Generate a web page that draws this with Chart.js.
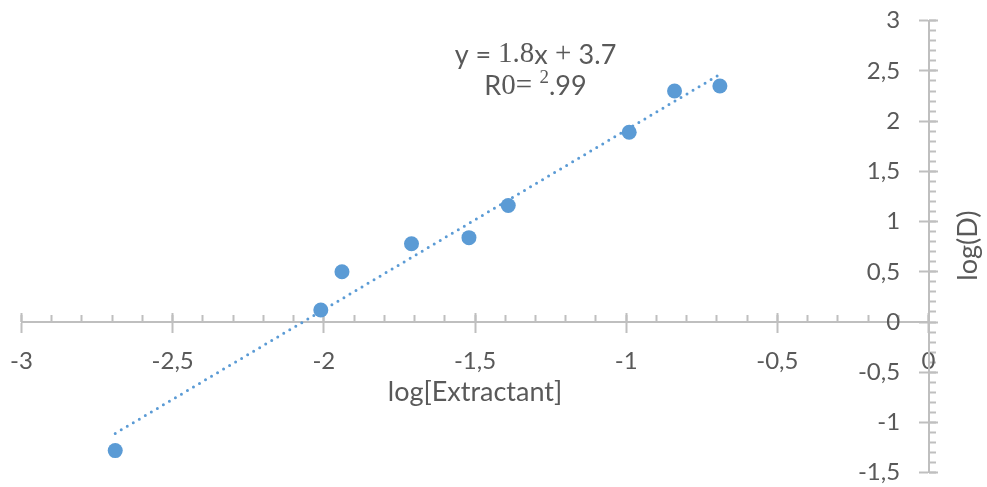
<!DOCTYPE html>
<html>
<head>
<meta charset="utf-8">
<script src="https://cdn.jsdelivr.net/npm/chart.js@4"></script>
<style>
  html, body { margin: 0; padding: 0; background: #fff; }
  #wrap { width: 987px; height: 487px; }
</style>
</head>
<body>
<div id="wrap"><canvas id="myChart" width="987" height="487"></canvas></div>
<script>
// measured points
const logExtractant = [-2.69, -2.01, -1.94, -1.71, -1.52, -1.39, -0.99, -0.84, -0.69];
const logD = [-1.28, 0.12, 0.50, 0.78, 0.84, 1.16, 1.89, 2.30, 2.35];

const xTicks = { min: -3, max: 0, major: 0.5, minor: 0.1 };
const yTicks = { min: -1.5, max: 3, major: 0.5, minor: 0.1 };

const eqLine1 = [['y = ', 'sans'], ['1.8', 'serif'], ['x', 'sans'], [' + ', 'serif'], ['3.7', 'sans']];
const eqLine2 = [['R', 'sans'], ['0= ', 'serif'], ['2', 'sup'], ['.99', 'sans']];

const xTitle = 'log[Extractant]';
const yTitle = 'log(D)';

// least squares trendline
const n = logExtractant.length;
const mx = logExtractant.reduce((a, b) => a + b, 0) / n;
const my = logD.reduce((a, b) => a + b, 0) / n;
let sxy = 0, sxx = 0;
logExtractant.forEach((x, i) => { sxy += (x - mx) * (logD[i] - my); sxx += (x - mx) * (x - mx); });
const slope = sxy / sxx;
const intercept = my - slope * mx;
const xFirst = Math.min(...logExtractant);
const xLast = Math.max(...logExtractant);
const trend = [xFirst, xLast].map(x => ({ x: x, y: slope * x + intercept }));

const points = logExtractant.map((x, i) => ({ x: x, y: logD[i] }));

const blue = '#5b9bd5';
const axisGrey = '#bfbfbf';
const textGrey = '#595959';
const sans = 'Lato, "Open Sans", sans-serif';
const serif = '"Liberation Serif", "DejaVu Serif", serif';
const fmt = v => String(Math.round(v * 10) / 10).replace('.', ',');
const noPad = s => { s.paddingLeft = 0; s.paddingRight = 0; s.paddingTop = 0; s.paddingBottom = 0; };

function tickScale(axis, lim, step, len, opts) {
  return {
    type: 'linear',
    axis: axis,
    min: lim.min,
    max: lim.max,
    position: opts.pos,
    afterFit: noPad,
    border: { display: !!opts.border, color: axisGrey, width: 2 },
    grid: { drawOnChartArea: false, drawTicks: len !== 0, tickLength: len, tickColor: axisGrey, tickWidth: 2 },
    ticks: {
      display: !!opts.labels,
      stepSize: step,
      autoSkip: false,
      maxTicksLimit: 200,
      maxRotation: 0,
      padding: opts.padding || 0,
      color: textGrey,
      font: { family: sans, size: 24 },
      callback: v => fmt(v)
    }
  };
}

const textPlugin = {
  id: 'texts',
  afterDraw(chart) {
    const ctx = chart.ctx;
    const xs = chart.scales.x, ys = chart.scales.y;
    const area = chart.chartArea;
    ctx.save();
    ctx.fillStyle = textGrey;
    ctx.textBaseline = 'middle';

    const fontOf = k => k === 'serif' ? '29px ' + serif : k === 'sup' ? '19px ' + serif : '27px ' + sans;
    const drawRuns = (runs, cx, cy) => {
      let w = 0;
      runs.forEach(r => { ctx.font = fontOf(r[1]); w += ctx.measureText(r[0]).width; });
      let x = cx - w / 2;
      ctx.textAlign = 'left';
      runs.forEach(r => {
        ctx.font = fontOf(r[1]);
        ctx.fillText(r[0], x, r[1] === 'sup' ? cy - 8 : cy);
        x += ctx.measureText(r[0]).width;
      });
    };
    drawRuns(eqLine1, xs.getPixelForValue(-1.3), ys.getPixelForValue(2.66));
    drawRuns(eqLine2, xs.getPixelForValue(-1.3), ys.getPixelForValue(2.35));

    ctx.font = '27px ' + sans;
    ctx.textAlign = 'center';
    ctx.fillText(xTitle, xs.getPixelForValue(-1.5), ys.getPixelForValue(-0.7));

    ctx.translate(area.right + 40, ys.getPixelForValue(0.76));
    ctx.rotate(-Math.PI / 2);
    ctx.fillText(yTitle, 0, 0);
    ctx.restore();
  }
};

const ctx = document.getElementById('myChart').getContext('2d');
const chart = new Chart(ctx, {
  type: 'scatter',
  data: {
    datasets: [
      {
        label: 'log(D)',
        data: points,
        backgroundColor: blue,
        borderColor: blue,
        pointRadius: 7.5,
        pointBorderWidth: 0,
        order: 1
      },
      {
        label: 'trend',
        type: 'line',
        data: trend,
        borderColor: blue,
        borderWidth: 3,
        borderDash: [0, 7],
        borderCapStyle: 'round',
        pointRadius: 0,
        fill: false,
        order: 2
      }
    ]
  },
  options: {
    responsive: false,
    animation: false,
    layout: { padding: { left: 21.5, right: 58.5, top: 20.7, bottom: 14.3 } },
    plugins: { legend: { display: false }, tooltip: { enabled: false } },
    scales: {
      x: tickScale('x', xTicks, xTicks.major, 10, { pos: { y: 0 }, labels: true, border: true, padding: 15 }),
      xUp: tickScale('x', xTicks, xTicks.major, -9, { pos: { y: 0 } }),
      xMinor: tickScale('x', xTicks, xTicks.minor, -7, { pos: { y: 0 } }),
      y: tickScale('y', yTicks, yTicks.major, 9, { pos: { x: 0 }, border: true }),
      yUp: tickScale('y', yTicks, yTicks.major, -9, { pos: { x: 0 } }),
      yMinor: tickScale('y', yTicks, yTicks.minor, -7, { pos: { x: 0 } }),
      yLabels: tickScale('y', yTicks, yTicks.major, 0, { pos: { x: -0.094 }, labels: true })
    }
  },
  plugins: [textPlugin]
});
</script>
</body>
</html>
